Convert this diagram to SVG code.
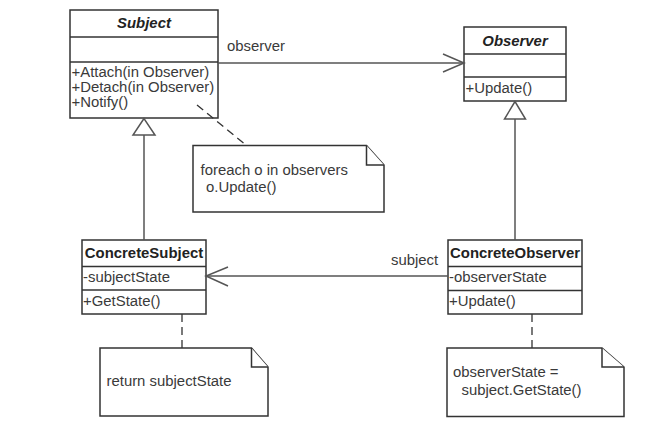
<svg xmlns="http://www.w3.org/2000/svg" width="654" height="434" viewBox="0 0 654 434">
<style>
.box{fill:#fff;stroke:#333;stroke-width:1.5}
.sep{stroke:#333;stroke-width:1.5}
.ln{fill:none;stroke:#555;stroke-width:1.5}
.dash{fill:none;stroke:#333;stroke-width:1.3;stroke-dasharray:8,5}
.tri{fill:#fff;stroke:#555;stroke-width:1.5}
text{font-family:"Liberation Sans",Arial,sans-serif;font-size:14.9px;fill:#3a3a3a}
.t{font-weight:bold;text-anchor:middle;fill:#222}
.ti{font-weight:bold;font-style:italic;text-anchor:middle;fill:#222}
</style>
<rect width="654" height="434" fill="#fff"/>
<g id="Subject">
  <rect class="box" x="70" y="10" width="148" height="108"/>
  <line class="sep" x1="70" y1="37" x2="218" y2="37"/>
  <line class="sep" x1="70" y1="62" x2="218" y2="62"/>
  <text class="ti" x="144" y="27.5">Subject</text>
  <text x="71.5" y="77">+Attach(in Observer)</text>
  <text x="71.5" y="92">+Detach(in Observer)</text>
  <text x="71.5" y="107">+Notify()</text>
</g>
<g id="Observer">
  <rect class="box" x="464" y="27" width="102" height="74"/>
  <line class="sep" x1="464" y1="54" x2="566" y2="54"/>
  <line class="sep" x1="464" y1="77" x2="566" y2="77"/>
  <text class="ti" x="515" y="45.5">Observer</text>
  <text x="465.5" y="93">+Update()</text>
</g>
<g id="ConcreteSubject">
  <rect class="box" x="82" y="240" width="124" height="74"/>
  <line class="sep" x1="82" y1="266.5" x2="206" y2="266.5"/>
  <line class="sep" x1="82" y1="290" x2="206" y2="290"/>
  <text class="t" x="144" y="258">ConcreteSubject</text>
  <text x="83" y="282">-subjectState</text>
  <text x="83" y="305.5">+GetState()</text>
</g>
<g id="ConcreteObserver">
  <rect class="box" x="448" y="240" width="134" height="74"/>
  <line class="sep" x1="448" y1="266.5" x2="582" y2="266.5"/>
  <line class="sep" x1="448" y1="290.5" x2="582" y2="290.5"/>
  <text class="t" x="515" y="258">ConcreteObserver</text>
  <text x="449" y="282">-observerState</text>
  <text x="449" y="305.5">+Update()</text>
</g>
<g id="note-notify">
  <path class="box" d="M193,145.5 H366.5 L384,165 V212 H193 Z"/>
  <polyline class="box" points="366.5,145.5 366.5,165 384,165"/>
  <text x="200.5" y="175">foreach o in observers</text>
  <text x="206" y="192">o.Update()</text>
</g>
<g id="note-getstate">
  <path class="box" d="M100,348 H251.5 L268,367 V416 H100 Z"/>
  <polyline class="box" points="251.5,348 251.5,367 268,367"/>
  <text x="106.5" y="386">return subjectState</text>
</g>
<g id="note-update">
  <path class="box" d="M447,348 H602 L624,367 V416.5 H447 Z"/>
  <polyline class="box" points="602,348 602,367 624,367"/>
  <text x="453" y="377">observerState =</text>
  <text x="461.5" y="395">subject.GetState()</text>
</g>
<g id="connectors">
  <line class="ln" x1="218" y1="63" x2="464" y2="63"/>
  <polyline class="ln" points="443,54 464,63 443,72"/>
  <text x="227" y="51">observer</text>
  <line class="ln" x1="144" y1="135" x2="144" y2="240"/>
  <polygon class="tri" points="144,118.5 133,135 155,135"/>
  <line class="ln" x1="515" y1="119" x2="515" y2="240"/>
  <polygon class="tri" points="515,101.5 504.5,119 525.5,119"/>
  <line class="ln" x1="448" y1="276" x2="206" y2="276"/>
  <polyline class="ln" points="228,267 206,276 228,286"/>
  <text x="391" y="265">subject</text>
  <line class="dash" x1="197" y1="105" x2="246" y2="145"/>
  <line class="dash" x1="182" y1="314" x2="182" y2="348"/>
  <line class="dash" x1="532" y1="314" x2="532" y2="348"/>
</g>
</svg>
